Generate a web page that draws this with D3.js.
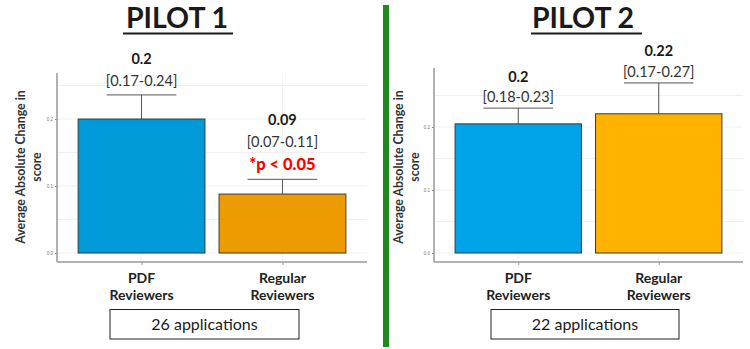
<!DOCTYPE html>
<html><head><meta charset="utf-8">
<script src="https://cdn.jsdelivr.net/npm/d3@7"></script>
<style>body{margin:0;background:#fff}svg{display:block;font-family:Lato,"Open Sans",sans-serif}</style>
</head><body><svg id="c" width="750" height="349"></svg>
<script>
const categories = ["PDF Reviewers", "Regular Reviewers"];
const categoryLines = [["PDF", "Reviewers"], ["Regular", "Reviewers"]];
const pilotTitles = ["PILOT 1", "PILOT 2"];
const pilot1Means = [0.2, 0.088];
const pilot1Upper = [0.236, 0.11];
const pilot1MeanLabels = ["0.2", "0.09"];
const pilot1CiLabels = ["[0.17-0.24]", "[0.07-0.11]"];
const pilot2Means = [0.205, 0.221];
const pilot2Upper = [0.23, 0.27];
const pilot2MeanLabels = ["0.2", "0.22"];
const pilot2CiLabels = ["[0.18-0.23]", "[0.17-0.27]"];
const applications = ["26 applications", "22 applications"];
const yTicks = [0, 0.1, 0.2];
const yMinorTicks = [0.05, 0.15, 0.25];
const yTickLabels = ["0.0", "0.1", "0.2"];
const pValueLabel = "*p < 0.05";
const yTitleLines = ["Average Absolute Change in", "score"];

const svg = d3.select("#c");

// green divider
svg.append("rect").attr("x", 383).attr("y", 5).attr("width", 6).attr("height", 342).attr("fill", "#1e8a1e");

const panels = [
  {x0: 57, x1: 367, yTop: 73, yBot: 262, domain: [-0.0134, 0.2687], means: pilot1Means, upper: pilot1Upper,
   meanLabels: pilot1MeanLabels, ciLabels: pilot1CiLabels, colors: ["#009ad9", "#ec9c00"],
   titleX: 177, ulx: [123, 233], titleYAxisX: 20, meanY: [64, 125], ciY: [86, 147], box: [110, 299],
   pval: true},
  {x0: 434, x1: 743, yTop: 68, yBot: 262, domain: [-0.0143, 0.2937], means: pilot2Means, upper: pilot2Upper,
   meanLabels: pilot2MeanLabels, ciLabels: pilot2CiLabels, colors: ["#00a2e8", "#ffb300"],
   titleX: 583, ulx: [531, 642], titleYAxisX: 398, meanY: [82, 56], ciY: [102, 77], box: [491, 679],
   pval: false}
];

panels.forEach((p, pi) => {
  const g = svg.append("g");
  const y = d3.scaleLinear().domain(p.domain).range([p.yBot, p.yTop]);
  const x = d3.scalePoint().domain(categories).range([p.x0, p.x1]).padding(0.6);
  const bw = x.step() * 0.9;

  // title
  g.append("text").attr("x", p.titleX).attr("y", 28).attr("text-anchor", "middle")
    .attr("font-size", 28.5).attr("font-weight", "bold").attr("fill", "#1a1a1a").text(pilotTitles[pi]);
  g.append("line").attr("x1", p.ulx[0]).attr("x2", p.ulx[1]).attr("y1", 33.5).attr("y2", 33.5)
    .attr("stroke", "#1a1a1a").attr("stroke-width", 2);

  // gridlines
  const gridY = yTicks.concat(yMinorTicks);
  g.selectAll(".gy").data(gridY).join("line")
    .attr("x1", p.x0).attr("x2", p.x1).attr("y1", d => y(d)).attr("y2", d => y(d))
    .attr("stroke", "#f0f0f0").attr("stroke-width", 1);
  g.selectAll(".gx").data(categories).join("line")
    .attr("x1", d => x(d)).attr("x2", d => x(d)).attr("y1", p.yTop).attr("y2", p.yBot)
    .attr("stroke", "#f3f3f3").attr("stroke-width", 1);

  // error bars (upper only)
  categories.forEach((c, i) => {
    g.append("line").attr("x1", x(c)).attr("x2", x(c)).attr("y1", y(p.means[i])).attr("y2", y(p.upper[i]))
      .attr("stroke", "#555").attr("stroke-width", 1);
    g.append("line").attr("x1", x(c) - bw * 0.275).attr("x2", x(c) + bw * 0.275)
      .attr("y1", y(p.upper[i])).attr("y2", y(p.upper[i])).attr("stroke", "#555").attr("stroke-width", 1);
  });

  // bars
  g.selectAll(".bar").data(categories).join("rect")
    .attr("x", d => x(d) - bw / 2).attr("width", bw)
    .attr("y", (d, i) => y(p.means[i])).attr("height", (d, i) => y(0) - y(p.means[i]))
    .attr("fill", (d, i) => p.colors[i]).attr("stroke", "#3a3a3a").attr("stroke-width", 1);

  // axes
  const ya = d3.axisLeft(y).tickValues(yTicks).tickFormat((d, i) => yTickLabels[i]).tickSize(2).tickPadding(2);
  const yg = g.append("g").attr("transform", `translate(${p.x0},0)`).call(ya);
  yg.select(".domain").remove();
  yg.selectAll("text").attr("font-size", 4.5).attr("fill", "#777");
  yg.selectAll("line").attr("stroke", "#888");
  g.append("line").attr("x1", p.x0).attr("x2", p.x0).attr("y1", p.yTop).attr("y2", p.yBot)
    .attr("stroke", "#999").attr("stroke-width", 1.5);
  const xa = d3.axisBottom(x).tickSize(3).tickFormat("");
  const xg = g.append("g").attr("transform", `translate(0,${p.yBot})`).call(xa);
  xg.select(".domain").remove();
  xg.selectAll("line").attr("stroke", "#999");
  g.append("line").attr("x1", p.x0).attr("x2", p.x1).attr("y1", p.yBot).attr("y2", p.yBot)
    .attr("stroke", "#999").attr("stroke-width", 1.5);

  // category labels
  categories.forEach((c, i) => {
    categoryLines[i].forEach((t, j) => {
      g.append("text").attr("x", x(c)).attr("y", 283 + j * 16.5).attr("text-anchor", "middle")
        .attr("font-size", 14).attr("font-weight", "bold").attr("fill", "#222").text(t);
    });
    g.append("text").attr("x", x(c)).attr("y", p.meanY[i]).attr("text-anchor", "middle")
      .attr("font-size", 14.5).attr("font-weight", "bold").attr("fill", "#1a1a1a").text(p.meanLabels[i]);
    g.append("text").attr("x", x(c)).attr("y", p.ciY[i]).attr("text-anchor", "middle")
      .attr("font-size", 14.5).attr("fill", "#333").text(p.ciLabels[i]);
  });
  if (p.pval) {
    g.append("text").attr("x", x(categories[1])).attr("y", 170).attr("text-anchor", "middle")
      .attr("font-size", 16.5).attr("font-weight", "900").attr("fill", "#ff0000").text(pValueLabel);
  }

  // y title
  yTitleLines.forEach((t, j) => {
    g.append("text").attr("transform", `translate(${p.titleYAxisX + j * 16.5 + 4.5},${167}) rotate(-90)`)
      .attr("text-anchor", "middle").attr("font-size", 12.3).attr("font-weight", "bold").attr("fill", "#333").text(t);
  });

  // applications box
  g.append("rect").attr("x", p.box[0]).attr("y", 309.5).attr("width", p.box[1] - p.box[0]).attr("height", 29.5)
    .attr("fill", "#fff").attr("stroke", "#222").attr("stroke-width", 1);
  g.append("text").attr("x", (p.box[0] + p.box[1]) / 2).attr("y", 330).attr("text-anchor", "middle")
    .attr("font-size", 16).attr("fill", "#1a1a1a").text(applications[pi]);
});
</script></body></html>
